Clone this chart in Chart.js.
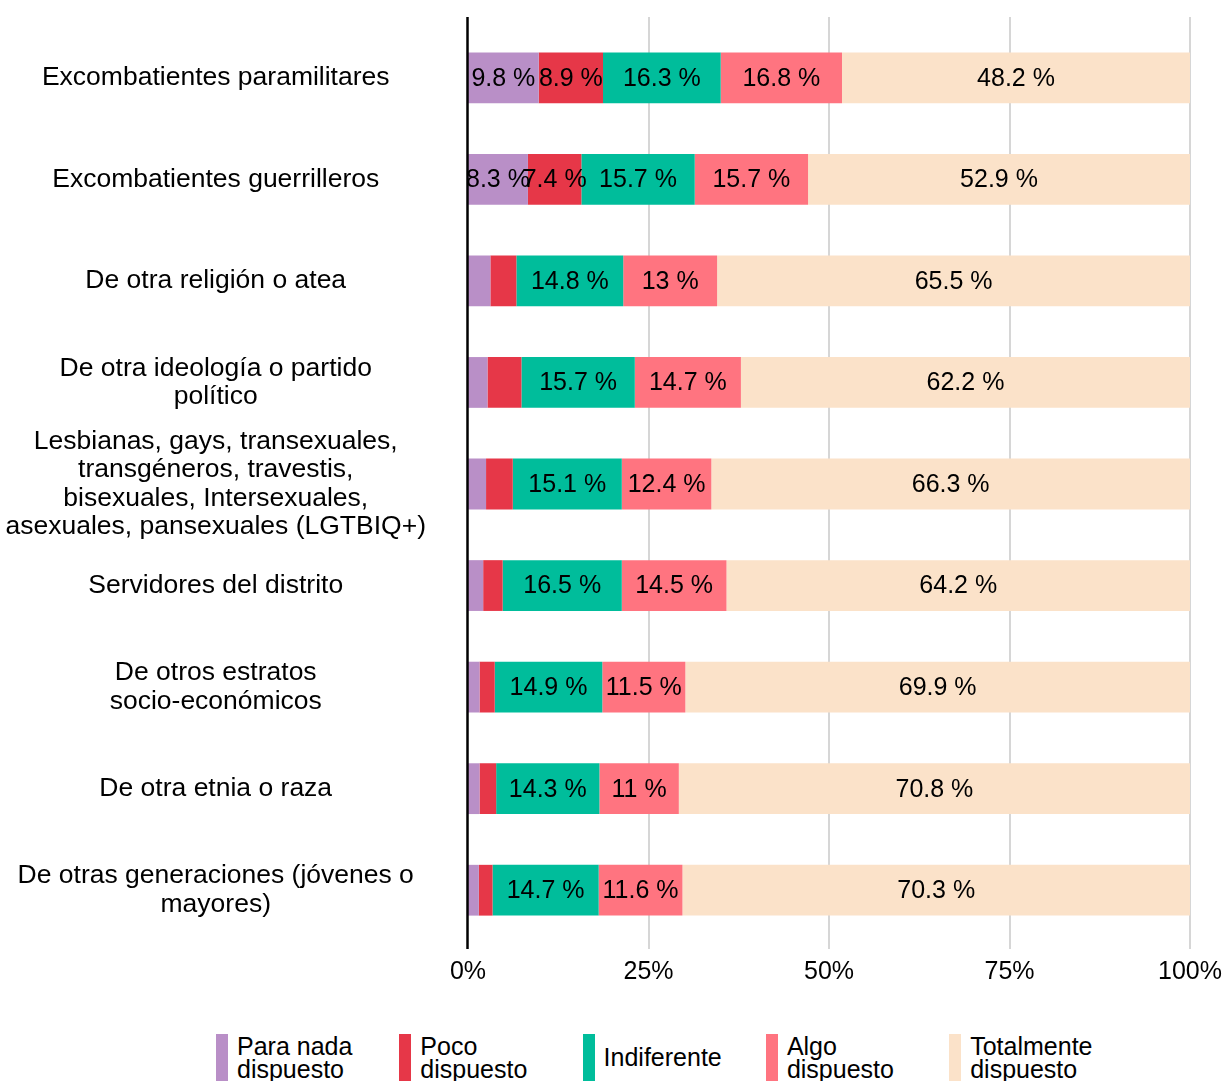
<!DOCTYPE html>
<html>
<head>
<meta charset="utf-8">
<script src="https://cdn.jsdelivr.net/npm/chart.js@4.4.1/dist/chart.umd.min.js"></script>
<style>
    body { margin: 0; background: #fff; overflow: hidden; font-family: 'Liberation Sans', Arial, sans-serif; }
    #wrap { position: relative; width: 1227px; height: 1016px; }
    #legend { position: absolute; top: 1034px; left: 0; width: 1227px; height: 47px; }
    .item { position: absolute; top: 0; display: flex; align-items: center; height: 47px; }
    .box { width: 12px; height: 47px; }
    .lbl { margin-left: 9px; font-size: 25px; line-height: 23px; color: #000; }
</style>
</head>
<body>
<div id="wrap"><canvas id="myChart"></canvas></div>
<div id="legend"></div>
<script>
const FONT = "'Liberation Sans', Arial, sans-serif";

// ----------- Data ----------- //
const categories = [
    'Excombatientes paramilitares',
    'Excombatientes guerrilleros',
    'De otra religión o atea',
    ['De otra ideología o partido', 'político'],
    ['Lesbianas, gays, transexuales,', 'transgéneros, travestis,', 'bisexuales, Intersexuales,', 'asexuales, pansexuales (LGTBIQ+)'],
    'Servidores del distrito',
    ['De otros estratos', 'socio-económicos'],
    'De otra etnia o raza',
    ['De otras generaciones (jóvenes o', 'mayores)']
];

const seriesNames = [['Para nada', 'dispuesto'], ['Poco', 'dispuesto'], ['Indiferente'], ['Algo', 'dispuesto'], ['Totalmente', 'dispuesto']];
const seriesColors = ['#b98fc7', '#e63748', '#00bd9b', '#ff7480', '#fbe2c9'];

const paraNada    = [9.8, 8.3, 3.1, 2.7, 2.5, 2.1, 1.6, 1.6, 1.5];
const poco        = [8.9, 7.4, 3.6, 4.7, 3.7, 2.7, 2.1, 2.3, 1.9];
const indiferente = [16.3, 15.7, 14.8, 15.7, 15.1, 16.5, 14.9, 14.3, 14.7];
const algo        = [16.8, 15.7, 13, 14.7, 12.4, 14.5, 11.5, 11, 11.6];
const totalmente  = [48.2, 52.9, 65.5, 62.2, 66.3, 64.2, 69.9, 70.8, 70.3];

const xTicks = [0, 25, 50, 75, 100];

const seriesValues = [paraNada, poco, indiferente, algo, totalmente];

// ----------- Plugins ----------- //
const gridPlugin = {
    id: 'extendedGrid',
    beforeDatasetsDraw(chart) {
        const {ctx, chartArea, scales: {x}} = chart;
        ctx.save();
        ctx.strokeStyle = '#d6d6d6';
        ctx.lineWidth = 2;
        xTicks.slice(1).forEach(v => {
            const px = Math.round(x.getPixelForValue(v));
            ctx.beginPath();
            ctx.moveTo(px, chartArea.top - 10);
            ctx.lineTo(px, chartArea.bottom + 8);
            ctx.stroke();
        });
        ctx.restore();
    },
    afterDatasetsDraw(chart) {
        const {ctx, chartArea, scales: {x}} = chart;
        ctx.save();
        ctx.strokeStyle = '#000';
        ctx.lineWidth = 2.5;
        const px = x.getPixelForValue(0) - 0.5;
        ctx.beginPath();
        ctx.moveTo(px, chartArea.top - 10);
        ctx.lineTo(px, chartArea.bottom + 8);
        ctx.stroke();
        ctx.restore();
    }
};

const labelPlugin = {
    id: 'segmentLabels',
    afterDatasetsDraw(chart) {
        const ctx = chart.ctx;
        ctx.save();
        ctx.font = '25px ' + FONT;
        ctx.fillStyle = '#000';
        ctx.textAlign = 'center';
        ctx.textBaseline = 'middle';
        chart.data.datasets.forEach((ds, i) => {
            chart.getDatasetMeta(i).data.forEach((bar, j) => {
                const v = ds.data[j];
                if (v < 5) return;
                const {x, base, y} = bar.getProps(['x', 'base', 'y'], true);
                ctx.fillText(v + ' %', (x + base) / 2, y + 1);
            });
        });
        ctx.restore();
    }
};

// ----------- Chart js Stuff ----------- //
const ctx = document.getElementById('myChart');
const chart = new Chart(ctx, {
    type: 'bar',
    data: {
        labels: categories,
        datasets: seriesValues.map((vals, i) => ({
            label: seriesNames[i].join(' '),
            data: vals,
            backgroundColor: seriesColors[i],
            borderWidth: 0,
            barPercentage: 0.5,
            categoryPercentage: 1.0
        }))
    },
    options: {
        indexAxis: 'y',
        responsive: true,
        maintainAspectRatio: false,
        animation: false,
        devicePixelRatio: 1,
        layout: { padding: { top: 27, right: 37, bottom: 13, left: 0 } },
        plugins: {
            legend: { display: false },
            tooltip: { enabled: false }
        },
        scales: {
            x: {
                stacked: true,
                min: 0,
                max: 100,
                afterBuildTicks: scale => { scale.ticks = xTicks.map(v => ({value: v})); },
                afterFit: scale => {
                    scale.paddingLeft = 0;
                    scale.paddingRight = 0;
                },
                grid: { display: false, drawTicks: false },
                border: { display: false },
                ticks: {
                    padding: 16,
                    color: '#000',
                    font: { family: FONT, size: 25 },
                    maxRotation: 0,
                    callback: v => v + '%'
                }
            },
            y: {
                stacked: true,
                afterFit: scale => {
                    scale.width = 468;
                    scale.paddingTop = 0;
                    scale.paddingBottom = 0;
                },
                grid: { display: false, drawTicks: false },
                border: { display: false },
                ticks: {
                    autoSkip: false,
                    crossAlign: 'center',
                    padding: 42,
                    color: '#000',
                    font: { family: FONT, size: 26.5, lineHeight: 1.075 }
                }
            }
        }
    },
    plugins: [gridPlugin, labelPlugin]
});

// ----------- Legend ----------- //
const legend = document.getElementById('legend');
seriesNames.forEach((name, i) => {
    const item = document.createElement('div');
    item.className = 'item';
    item.style.left = (216 + i * 183.3) + 'px';
    const box = document.createElement('div');
    box.className = 'box';
    box.style.backgroundColor = seriesColors[i];
    const lbl = document.createElement('div');
    lbl.className = 'lbl';
    lbl.innerHTML = name.join('<br>');
    item.appendChild(box);
    item.appendChild(lbl);
    legend.appendChild(item);
});
</script>
</body>
</html>
